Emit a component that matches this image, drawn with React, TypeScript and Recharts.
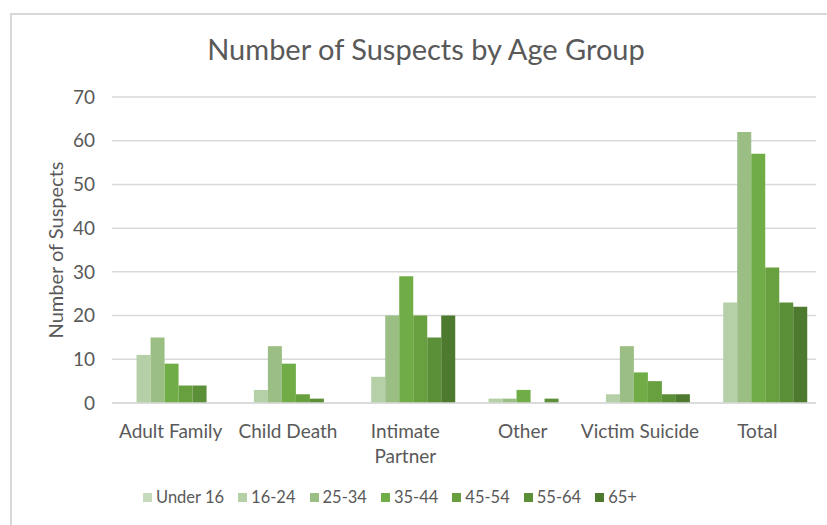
import React from 'react';
import { BarChart, Bar, XAxis, YAxis, CartesianGrid } from 'recharts';

// categories along the x axis
const categories = ['Adult Family', 'Child Death', 'Intimate Partner', 'Other', 'Victim Suicide', 'Total'];

// one series per age group, values per category
const ageGroups = ['Under 16', '16-24', '25-34', '35-44', '45-54', '55-64', '65+'];
const under16 = [0, 0, 0, 0, 0, 0];
const age16to24 = [11, 3, 6, 1, 2, 23];
const age25to34 = [15, 13, 20, 1, 13, 62];
const age35to44 = [9, 9, 29, 3, 7, 57];
const age45to54 = [4, 2, 20, 0, 5, 31];
const age55to64 = [4, 1, 15, 1, 2, 23];
const age65plus = [0, 0, 20, 0, 2, 22];

const yTicks = [0, 10, 20, 30, 40, 50, 60, 70];

const colors = ['#c6dbbc', '#b5cfa6', '#9bbe84', '#70ad47', '#689f3f', '#5b8f38', '#4e7a2f'];
const seriesValues = [under16, age16to24, age25to34, age35to44, age45to54, age55to64, age65plus];

const data = categories.map((name, i) => {
  const row: { [key: string]: string | number } = { name };
  ageGroups.forEach((g, s) => {
    row[g] = seriesValues[s][i];
  });
  return row;
});

const FONT = 'Lato, "Open Sans", sans-serif';
const TEXT = '#595959';

const CategoryTick = (props: any) => {
  const { x, y, payload } = props;
  const words: string[] = payload.value === 'Intimate Partner' ? ['Intimate', 'Partner'] : [payload.value];
  return (
    <text x={x} y={y} textAnchor="middle" fill={TEXT} fontSize={19} fontFamily={FONT}>
      {words.map((w, i) => (
        <tspan key={w} x={x} dy={i === 0 ? 33 : 25}>{w}</tspan>
      ))}
    </text>
  );
};

export default function App() {
  return (
    <div style={{ position: 'absolute', left: 0, top: 0, width: 827, height: 525, overflow: 'hidden', background: '#fff', fontFamily: FONT }}>
      <div style={{ position: 'absolute', left: 10, top: 13, width: 840, height: 540, border: '2px solid #d9d9d9', boxSizing: 'border-box' }} />
      <div style={{ position: 'absolute', left: 0, width: 852, top: 31, textAlign: 'center', fontSize: 29, color: TEXT }}>
        Number of Suspects by Age Group
      </div>
      <div style={{ position: 'absolute', left: 55, top: 250, transform: 'translate(-50%, -50%) rotate(-90deg)', whiteSpace: 'nowrap', fontSize: 20, color: TEXT }}>
        Number of Suspects
      </div>
      <div style={{ position: 'absolute', left: 0, top: 0 }}>
        <BarChart
          width={827}
          height={525}
          data={data}
          margin={{ top: 97, right: 11, bottom: 92, left: 40 }}
          barCategoryGap="9%"
          barGap={0}
        >
          <CartesianGrid vertical={false} stroke="#d9d9d9" strokeWidth={1.5} />
          <XAxis
            dataKey="name"
            height={30}
            axisLine={{ stroke: '#d9d9d9', strokeWidth: 1.5 }}
            tickLine={false}
            tickSize={0}
            interval={0}
            tick={<CategoryTick />}
          />
          <YAxis
            width={72}
            domain={[0, 70]}
            ticks={yTicks}
            axisLine={false}
            tickLine={false}
            tickSize={0}
            tickMargin={17}
            tick={{ fill: TEXT, fontSize: 19, fontFamily: FONT }}
          />
          {ageGroups.map((g, s) => (
            <Bar key={g} dataKey={g} fill={colors[s]} isAnimationActive={false} />
          ))}
        </BarChart>
      </div>
      <div style={{ position: 'absolute', left: 143, top: 487, display: 'flex', gap: 14, fontSize: 16.5, color: TEXT }}>
        {ageGroups.map((g, s) => (
          <div key={g} style={{ display: 'flex', alignItems: 'center' }}>
            <span style={{ width: 9, height: 9, background: colors[s], marginRight: 4, display: 'inline-block' }} />
            <span>{g}</span>
          </div>
        ))}
      </div>
    </div>
  );
}
